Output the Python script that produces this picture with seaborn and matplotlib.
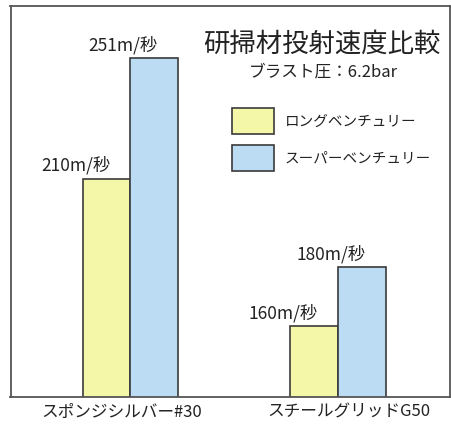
import matplotlib
matplotlib.use("Agg")
import matplotlib.pyplot as plt
import matplotlib.transforms as mtransforms
from matplotlib.patches import Patch
import seaborn as sns
import pandas as pd

categories = ["スポンジシルバー#30", "スチールグリッドG50"]
series_names = ["ロングベンチュリー", "スーパーベンチュリー"]
long_venturi = [210, 160]
super_venturi = [251, 180]
value_labels_long = ["210m/秒", "160m/秒"]
value_labels_super = ["251m/秒", "180m/秒"]
title = "研掃材投射速度比較"
subtitle = "ブラスト圧：6.2bar"

df = pd.DataFrame({
    "category": categories * 2,
    "series": [series_names[0]] * 2 + [series_names[1]] * 2,
    "value": long_venturi + super_venturi,
    "label": value_labels_long + value_labels_super,
})

sns.set_style("white")
plt.rcParams["font.family"] = ["Noto Sans CJK JP", "DejaVu Sans"]

W, H = 451, 430
fig = plt.figure(figsize=(W / 100, H / 100), dpi=100)
ax = fig.add_axes([10.5 / W, (H - 397) / H, (450 - 10.5) / W, (397 - 6) / H])

palette = {series_names[0]: "#f4f6a8", series_names[1]: "#bcdcf3"}
sns.barplot(data=df, x="category", y="value", hue="series", order=categories,
            hue_order=series_names, palette=palette, width=0.46,
            edgecolor="#3a3a3a", linewidth=1.2, saturation=1, ax=ax, legend=False)

ax.set_xlim(-0.578, 1.54)
ax.set_ylim(136, 268.7)
ax.set_yticks([])
ax.set_xlabel("")
ax.set_ylabel("")
for s in ax.spines.values():
    s.set_color("#555555")
    s.set_linewidth(1.3)

ax.tick_params(axis="x", length=0, pad=5, labelsize=12, colors="#222222")
shifts = [-9, 11]
for lbl, dx in zip(ax.get_xticklabels(), shifts):
    lbl.set_transform(lbl.get_transform() + mtransforms.ScaledTranslation(dx / 100, 0, fig.dpi_scale_trans))

# value labels
for container, labels in zip(ax.containers, [value_labels_long, value_labels_super]):
    for bar, txt in zip(container, labels):
        x = bar.get_x() + bar.get_width() / 2
        y = bar.get_height()
        ax.annotate(txt, (x, y), xytext=(-31, 4), textcoords="offset pixels",
                    ha="center", va="bottom", fontsize=12.5, color="#222222")

fig.text(322 / W, 1 - 44 / H, title, ha="center", va="center", fontsize=19, color="#222222")
fig.text(323 / W, 1 - 72 / H, subtitle, ha="center", va="center", fontsize=12, color="#222222")

handles = [Patch(facecolor=palette[n], edgecolor="#3a3a3a", linewidth=1.2) for n in series_names]
leg = fig.legend(handles, series_names, loc="upper left", bbox_to_anchor=(232 / W, 1 - 108 / H),
                 frameon=False, fontsize=10.5, handlelength=2.85, handleheight=2.35,
                 handletextpad=0.75, labelspacing=0.75, borderpad=0, borderaxespad=0)
for t in leg.get_texts():
    t.set_color("#222222")

fig.savefig("out.png", dpi=100)
